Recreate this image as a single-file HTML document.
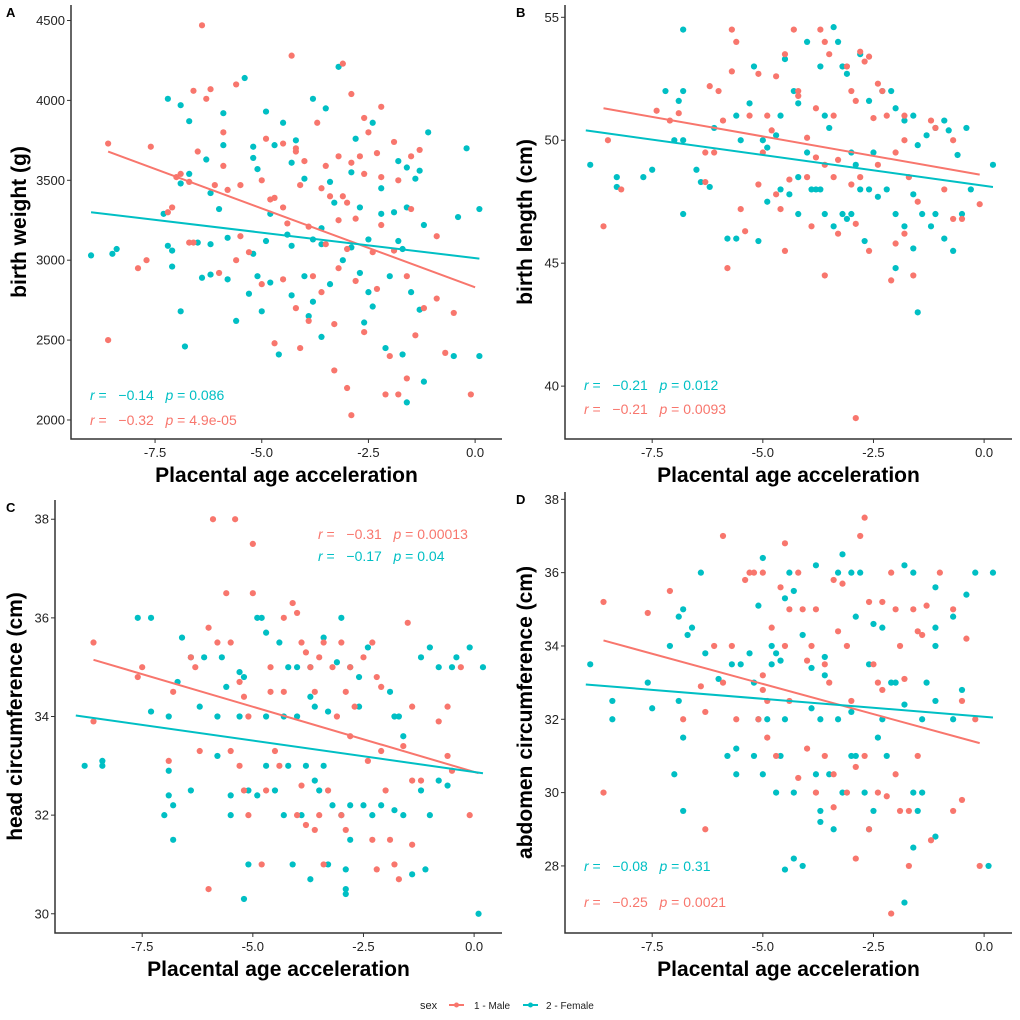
<!DOCTYPE html>
<html><head><meta charset="utf-8"><style>
body{margin:0;background:#fff;}
svg{display:block;font-family:"Liberation Sans",sans-serif;}
.ann{white-space:pre;}
</style></head><body>
<svg id="fig" width="1020" height="1020" viewBox="0 0 1020 1020"></svg>
<script>
// ---- Data (x = placental age acceleration, y = outcome) ----
const maleA = [[-8.6,3730],[-7.6,3710],[-8.6,2500],[-7.0,3520],[-6.6,4060],[-6.4,4470],[-6.3,4010],[-6.2,4070],[-5.6,4100],[-4.3,4280],[-3.1,4230],[-2.9,4040],[-2.6,3890],[-2.2,3960],[-2.5,3800],[-5.9,3800],[-4.9,3760],[-4.5,3730],[-4.2,3700],[-3.7,3860],[-4.2,3680],[-4.0,3620],[-3.2,3650],[-2.9,3610],[-2.7,3650],[-1.3,3690],[-1.9,3740],[-2.3,3670],[-6.9,3540],[-6.5,3680],[-6.7,3490],[-6.1,3470],[-5.9,3590],[-5.8,3440],[-5.5,3470],[-5.0,3500],[-4.8,3380],[-4.5,3330],[-4.7,3390],[-4.1,3470],[-3.6,3450],[-3.4,3400],[-3.1,3400],[-3.0,3360],[-2.2,3520],[-1.8,3500],[-1.5,3650],[-1.5,3320],[-3.5,3590],[-2.6,3540],[-7.2,3300],[-7.1,3330],[-6.7,3110],[-6.6,3110],[-5.5,3150],[-5.3,3050],[-4.4,3230],[-3.9,3210],[-3.2,3250],[-2.8,3260],[-2.2,3220],[-0.9,3150],[-1.9,3060],[-2.4,3050],[-3.5,3100],[-3.0,3070],[-5.6,3000],[-7.7,3000],[-7.9,2950],[-6.0,2920],[-5.0,2850],[-4.5,2880],[-3.8,2900],[-3.6,2800],[-3.2,2950],[-2.8,2870],[-2.3,2820],[-1.6,2900],[-0.9,2760],[-1.2,2700],[-0.5,2670],[-4.2,2700],[-3.9,2620],[-3.3,2600],[-2.6,2550],[-4.7,2480],[-4.1,2450],[-3.3,2310],[-3.0,2200],[-2.1,2160],[-1.8,2160],[-1.6,2260],[-0.1,2160],[-2.9,2030],[-1.4,2530],[-0.7,2420],[-2.0,2400]];
const femaleA = [[-9.0,3030],[-8.5,3040],[-8.4,3070],[-7.2,4010],[-6.9,3970],[-6.7,3870],[-5.9,3920],[-5.4,4140],[-4.9,3930],[-4.5,3860],[-3.8,4010],[-3.2,4210],[-3.5,3950],[-2.4,3860],[-1.1,3800],[-0.2,3700],[0.1,3320],[-7.3,3290],[-6.9,3480],[-6.7,3540],[-6.3,3630],[-5.9,3720],[-5.2,3710],[-5.2,3640],[-5.1,3570],[-4.7,3720],[-4.3,3610],[-4.2,3750],[-4.0,3510],[-3.4,3490],[-2.9,3550],[-2.8,3760],[-2.2,3450],[-1.8,3620],[-1.6,3580],[-1.3,3560],[-1.4,3510],[-6.0,3320],[-6.2,3420],[-4.8,3290],[-3.6,3200],[-3.3,3360],[-2.7,3330],[-2.2,3290],[-1.9,3300],[-1.6,3330],[-1.2,3220],[-0.4,3270],[-7.2,3090],[-7.1,3060],[-6.5,3110],[-6.2,3100],[-5.8,3140],[-5.2,3040],[-4.9,3120],[-4.4,3160],[-4.3,3090],[-3.8,3130],[-3.6,3100],[-2.9,3080],[-2.5,3130],[-1.8,3120],[-1.7,3070],[-7.1,2960],[-6.9,2680],[-6.8,2460],[-6.2,2910],[-5.8,2880],[-5.3,2790],[-5.1,2900],[-4.8,2860],[-4.3,2780],[-4.0,2900],[-3.8,2740],[-3.4,2850],[-3.1,3000],[-2.7,2920],[-2.5,2800],[-2.0,2900],[-1.5,2800],[-1.3,2690],[-5.6,2620],[-5.0,2680],[-4.6,2410],[-3.9,2650],[-3.6,2520],[-2.6,2610],[-2.1,2450],[-1.7,2410],[-1.2,2240],[-1.6,2110],[-2.4,2710],[-0.5,2400],[0.1,2400],[-6.4,2890]];
const fitMaleA = [[-8.6,3680],[0.0,2830]];
const fitFemaleA = [[-9.0,3300],[0.1,3010]];
const yTicksA = [2000,2500,3000,3500,4000,4500];

const maleB = [[-8.6,46.5],[-8.5,50],[-8.2,48],[-7.4,51.2],[-7.1,50.8],[-6.9,51.1],[-6.3,49.5],[-6.1,49.5],[-6.2,52.2],[-6.0,52],[-5.9,50.8],[-5.7,52.8],[-5.7,54.5],[-5.6,54],[-5.3,51],[-5.1,52.7],[-5.0,49.5],[-4.9,51],[-4.8,50.4],[-4.7,52.6],[-4.5,53.5],[-4.2,51.8],[-4.3,54.5],[-4.2,52],[-4.0,50.1],[-3.8,51.3],[-3.7,54.5],[-3.6,54],[-3.5,53.5],[-3.4,51],[-3.1,53],[-2.8,53.6],[-2.7,53.2],[-2.6,53.4],[-2.4,52.3],[-2.3,52],[-2.2,51],[-3.0,52],[-2.9,51.6],[-2.5,50.9],[-1.8,51],[-1.2,50.8],[-1.1,50.5],[-0.7,50],[-1.8,50],[-6.3,48.3],[-5.5,47.2],[-5.1,48.2],[-4.7,47.8],[-4.4,48.4],[-4.0,48.5],[-3.8,49.3],[-3.6,49],[-3.4,48.5],[-3.3,49.2],[-3.0,48.2],[-2.8,48.5],[-2.4,49],[-2.0,49.5],[-1.7,48.5],[-1.5,47.5],[-0.9,48],[-0.7,46.8],[-0.5,46.8],[-0.1,47.4],[-2.9,46.6],[-3.3,46.2],[-2.6,45.5],[-2.0,45.8],[-1.8,46.2],[-4.5,45.5],[-5.8,44.8],[-3.6,44.5],[-2.1,44.3],[-1.6,44.5],[-2.9,38.7],[-3.9,46.5],[-5.4,46.3],[-4.6,47.2]];
const femaleB = [[-8.9,49],[-8.3,48.5],[-8.3,48.1],[-7.7,48.5],[-7.5,48.8],[-7.2,52],[-6.8,52],[-6.9,51.6],[-6.8,54.5],[-7.0,50],[-6.8,50],[-6.5,48.8],[-6.4,48.3],[-6.8,47],[-6.2,48.1],[-6.1,50.5],[-5.6,51],[-5.5,50],[-5.3,51.5],[-5.2,53],[-5.0,50],[-4.9,49.7],[-4.7,50.2],[-4.5,53.3],[-4.6,51],[-4.3,52],[-4.2,51.5],[-4.0,54],[-4.0,49.5],[-3.7,53],[-3.6,51],[-3.5,50.5],[-3.4,54.6],[-3.3,54],[-3.2,53],[-3.1,52.7],[-3.0,49.5],[-2.9,49],[-2.8,53.5],[-2.6,51.6],[-2.5,49.5],[-2.3,52],[-2.1,52],[-2.0,51.3],[-1.8,50.8],[-1.6,51],[-1.5,49.8],[-1.3,50.2],[-1.1,50.5],[-0.9,50.8],[-0.8,50.4],[-0.6,49.4],[0.2,49],[-0.4,50.5],[-5.8,46],[-5.6,46],[-4.9,47.5],[-4.6,48],[-4.4,47.8],[-4.2,48.5],[-3.9,48],[-3.8,48],[-3.7,48],[-3.6,47],[-3.4,46.5],[-3.2,47],[-3.1,46.8],[-3.0,47],[-2.8,48],[-2.6,48],[-2.4,47.7],[-2.2,48],[-2.0,47],[-1.8,46.5],[-1.6,47.8],[-1.4,47],[-1.2,46.5],[-1.1,47],[-0.9,46],[-0.7,45.5],[-0.5,47],[-1.5,43],[-5.1,45.9],[-2.0,44.8],[-2.7,45.9],[-4.2,47],[-1.6,45.6],[-0.3,48]];
const fitMaleB = [[-8.6,51.3],[-0.1,48.6]];
const fitFemaleB = [[-9.0,50.4],[0.2,48.1]];
const yTicksB = [40,45,50,55];

const maleC = [[-8.6,35.5],[-8.6,33.9],[-7.6,34.8],[-7.5,35],[-6.8,34.5],[-6.4,35.2],[-6.3,35],[-6.0,35.8],[-6.0,30.5],[-5.9,38],[-5.4,38],[-5.8,35.5],[-5.6,36.5],[-5.5,35.5],[-5.3,34.7],[-5.2,34.4],[-5.1,34],[-5.0,37.5],[-5.0,36.5],[-4.6,35],[-4.5,33.3],[-4.3,36],[-4.1,36.3],[-4.0,36.1],[-3.9,35.5],[-3.8,35.3],[-3.7,35],[-3.5,35.2],[-3.4,35.5],[-3.2,35],[-3.0,35.5],[-2.8,35],[-2.5,35.2],[-2.3,35.5],[-2.2,34.8],[-2.1,34.6],[-1.5,35.9],[-1.4,34.2],[-0.8,33.9],[-0.6,34.2],[-0.3,35],[-3.6,34.5],[-3.1,34],[-2.9,34.5],[-2.7,34.2],[-4.3,34.5],[-4.6,34.5],[-5.5,33.3],[-6.2,33.3],[-6.9,33.1],[-5.2,32.5],[-4.7,32.5],[-3.9,32.6],[-3.3,32.5],[-2.4,33.1],[-2.1,33.3],[-1.6,33.4],[-1.2,32.7],[-0.6,33.2],[-0.5,32.9],[-5.1,32],[-4.0,32],[-3.5,32],[-3.0,32],[-2.9,31.7],[-3.8,31.8],[-3.6,31.7],[-2.3,31.5],[-1.9,31.5],[-1.4,31.4],[-0.1,32],[-4.8,31],[-3.4,31],[-2.2,30.9],[-1.8,31],[-1.7,30.7],[-5.3,33],[-4.4,33],[-2.8,33.6],[-1.4,32.7],[-2.0,32.5]];
const femaleC = [[-8.8,33],[-8.4,33.1],[-8.4,33],[-7.6,36],[-7.3,36],[-6.6,35.6],[-6.4,35.2],[-6.1,35.2],[-5.7,35.2],[-5.6,34.6],[-5.3,34.9],[-5.2,34.8],[-4.9,36],[-4.8,36],[-4.7,35.7],[-4.4,35.5],[-4.2,35],[-4.0,35],[-3.7,35],[-3.4,35.6],[-3.1,35.1],[-3.0,36],[-2.8,35],[-2.6,34.8],[-2.4,35.4],[-1.9,34.5],[-1.7,34],[-1.2,35.2],[-1.0,35.4],[-0.8,35],[-0.5,35],[-0.4,35.2],[-0.1,35.4],[0.2,35],[-7.3,34.1],[-6.9,34],[-6.7,34.7],[-6.2,34.2],[-5.8,34],[-5.3,34],[-4.7,34],[-4.3,34],[-4.0,34],[-3.7,34.4],[-3.6,34.2],[-3.3,34.1],[-2.6,34.2],[-1.8,34],[-1.6,33.6],[-6.9,32.9],[-6.9,32.4],[-6.8,32.2],[-6.4,32.5],[-5.8,33.2],[-5.5,32.4],[-5.1,32.5],[-4.9,32.4],[-4.7,33],[-4.5,32.5],[-4.2,33],[-3.8,33],[-3.6,32.7],[-3.4,33],[-3.2,32.2],[-3.0,32],[-2.8,32.2],[-2.5,32.2],[-2.3,32],[-2.1,32.2],[-1.8,32.1],[-1.6,32],[-1.2,32.5],[-1.0,32],[-0.8,32.7],[-0.6,32.6],[-7.0,32],[-6.8,31.5],[-5.5,32],[-5.1,31],[-4.1,31],[-3.7,30.7],[-3.3,31],[-2.9,30.9],[-2.9,30.5],[-2.8,31.5],[-1.4,30.8],[-1.1,30.9],[0.1,30],[-5.2,30.3],[-2.9,30.4],[-3.9,32],[-3.5,32.5],[-4.3,32]];
const fitMaleC = [[-8.6,35.15],[0.1,32.85]];
const fitFemaleC = [[-9.0,34.02],[0.2,32.85]];
const yTicksC = [30,32,34,36,38];

const maleD = [[-8.6,35.2],[-8.6,30],[-7.6,34.9],[-7.1,35.5],[-6.8,32],[-6.4,32.9],[-6.3,32.2],[-6.3,29],[-6.1,34],[-5.9,37],[-5.9,33],[-5.7,34],[-5.6,32],[-5.4,35.8],[-5.3,36],[-5.2,36],[-5.1,32],[-5.0,36],[-5.0,33.2],[-5.0,32.8],[-4.9,32.5],[-4.8,34.5],[-4.6,35.6],[-4.5,36.8],[-4.4,35],[-4.5,34],[-4.4,32.5],[-4.2,36],[-4.1,35],[-4.0,33.6],[-3.9,34],[-3.8,35],[-3.6,33.5],[-3.5,33],[-3.4,35.8],[-3.3,34.4],[-3.2,35.7],[-3.1,34],[-2.8,37],[-2.7,37.5],[-2.6,35.2],[-2.5,33.5],[-2.4,33],[-2.3,35.2],[-2.1,36],[-2.0,35],[-1.9,34],[-1.8,33.1],[-1.6,35],[-1.5,34.4],[-1.4,34.3],[-1.3,35.1],[-1.0,36],[-0.7,35],[-0.5,32.5],[-0.2,32],[-0.4,34.2],[-4.7,31],[-4.2,30.4],[-3.8,30],[-3.4,30.5],[-3.1,30],[-2.9,30.7],[-2.7,31],[-2.4,30],[-2.2,29.9],[-2.0,30.5],[-1.9,29.5],[-1.7,29.5],[-1.5,31],[-1.2,28.7],[-0.7,29.5],[-0.5,29.8],[-0.1,28],[-2.9,28.2],[-2.1,26.7],[-1.7,28],[-3.4,29.6],[-2.6,29],[-3.6,31],[-2.3,32.8],[-3.0,32.5],[-4.9,31.5],[-4.0,31.2]];
const femaleD = [[-8.9,33.5],[-8.4,32.5],[-8.4,32],[-7.6,33],[-7.5,32.3],[-7.1,34],[-6.9,34.8],[-6.9,32.5],[-6.8,35],[-6.7,34.3],[-6.6,34.5],[-6.4,36],[-6.3,33.8],[-6.0,33.1],[-5.7,33.5],[-5.5,33.5],[-5.3,33.8],[-5.2,33],[-5.1,35.1],[-5.0,36.4],[-4.8,34],[-4.8,33.5],[-4.7,33.8],[-4.6,33.6],[-4.5,35.3],[-4.4,36],[-4.3,35.5],[-4.1,34.3],[-3.9,33.4],[-3.8,36.2],[-3.6,33.7],[-3.6,33.2],[-3.3,36],[-3.2,36.5],[-3.0,36],[-2.9,34.8],[-2.8,36],[-2.6,33.5],[-2.5,34.6],[-2.3,34.5],[-2.1,33],[-2.0,33],[-1.8,36.2],[-1.6,36],[-1.3,33],[-1.1,35.6],[-1.1,34.5],[-1.1,34],[-0.7,34.8],[-0.4,35.4],[-0.2,36],[0.2,36],[-0.5,32.8],[-5.1,32],[-4.9,32],[-4.5,32],[-3.9,32.3],[-3.7,32],[-3.3,32],[-3.0,32.2],[-2.3,32],[-1.8,32.4],[-1.4,32],[-1.1,32.5],[-0.7,32],[-7.0,30.5],[-6.8,31.5],[-6.8,29.5],[-5.8,31],[-5.6,30.5],[-5.2,31],[-5.0,30.5],[-4.7,30],[-4.6,31],[-4.3,30],[-3.8,30.5],[-3.7,29.5],[-3.7,29.2],[-3.5,30.5],[-3.4,29],[-3.2,30],[-2.9,31],[-2.7,30],[-2.5,29.5],[-2.6,29],[-2.2,31],[-1.6,30],[-1.4,30],[-1.5,29.5],[-1.1,28.8],[-1.6,28.5],[-4.5,27.9],[-4.3,28.2],[-4.1,28],[-1.8,27],[0.1,28],[-3.0,31],[-2.4,31.5],[-5.6,31.2]];
const fitMaleD = [[-8.6,34.15],[-0.1,31.35]];
const fitFemaleD = [[-9.0,32.95],[0.2,32.05]];
const yTicksD = [28,30,32,34,36,38];

const xTicks = [-7.5,-5.0,-2.5,0.0];
const xTickLabels = ["-7.5","-5.0","-2.5","0.0"];

const RED = "#F8766D", CYAN = "#00BFC4";
const NS = "http://www.w3.org/2000/svg";
const svg = document.getElementById('fig');
function mk(tag, attrs, parent, text){
  const e = document.createElementNS(NS, tag);
  for (const k in attrs) e.setAttribute(k, attrs[k]);
  if (text !== undefined) e.textContent = text;
  (parent || svg).appendChild(e);
  return e;
}

function panel(p){
  const g = mk('g', {});
  
  
  const xs = v => p.L + (v - p.xmin) / (p.xmax - p.xmin) * (p.R - p.L);
  const ys = v => p.B - (v - p.ymin) / (p.ymax - p.ymin) * (p.B - p.T);
  const letter = mk('text', {x: p.letterX, y: p.T + 12, 'font-size': 13, 'font-weight': 'bold', fill: '#000'}, g, p.letter);
  
  
  const pts = mk('g', {}, g);
  
  
  p.female.forEach(d => {
    const c = mk('circle', {cx: xs(d[0]), cy: ys(d[1]), r: 3.1, fill: CYAN}, pts);
    
    
  });
  p.male.forEach(d => {
    const c = mk('circle', {cx: xs(d[0]), cy: ys(d[1]), r: 3.1, fill: RED}, pts);
    
    
  });
  const lm = mk('line', {x1: xs(p.fitM[0][0]), y1: ys(p.fitM[0][1]), x2: xs(p.fitM[1][0]), y2: ys(p.fitM[1][1]), stroke: RED, 'stroke-width': 2}, g);
  
  
  const lf = mk('line', {x1: xs(p.fitF[0][0]), y1: ys(p.fitF[0][1]), x2: xs(p.fitF[1][0]), y2: ys(p.fitF[1][1]), stroke: CYAN, 'stroke-width': 2}, g);
  
  
  const ax = mk('path', {d: `M${p.L},${p.T} V${p.B} H${p.R}`, fill: 'none', stroke: '#333', 'stroke-width': 1.5}, g);
  
  
  p.yticks.forEach(v => {
    mk('line', {x1: p.L - 4, x2: p.L, y1: ys(v), y2: ys(v), stroke: '#333', 'stroke-width': 1}, g);
    const t = mk('text', {x: p.L - 6, y: ys(v) + 4.5, 'font-size': 13, 'text-anchor': 'end', fill: '#222'}, g, String(v));
    
    
  });
  xTicks.forEach((v, i) => {
    mk('line', {x1: xs(v), x2: xs(v), y1: p.B, y2: p.B + 4, stroke: '#333', 'stroke-width': 1}, g);
    const t = mk('text', {x: xs(v), y: p.B + 18, 'font-size': 13, 'text-anchor': 'middle', fill: '#222'}, g, xTickLabels[i]);
    
    
  });
  const xt = mk('text', {x: (p.L + p.R) / 2, y: p.B + 43, 'font-size': 21, 'font-weight': 'bold', 'text-anchor': 'middle', fill: '#000'}, g, 'Placental age acceleration');
  
  
  const cy = (p.T + p.B) / 2;
  const yt = mk('text', {x: p.ytX, y: cy, 'font-size': 21, 'font-weight': 'bold', 'text-anchor': 'middle', fill: '#000', transform: `rotate(-90 ${p.ytX} ${cy})`}, g, p.ytitle);
  
  
  p.ann.forEach(a => {
    const t = mk('text', {x: a.x, y: a.y, 'font-size': 14, fill: a.c, class: 'ann'}, g);
    
    
    mk('tspan', {'font-style': 'italic'}, t, 'r');
    mk('tspan', {}, t, ' =   ' + a.r + '   ');
    mk('tspan', {'font-style': 'italic'}, t, 'p');
    mk('tspan', {}, t, ' = ' + a.p);
  });
}

const XMIN = -9.47, XMAX = 0.63;
panel({letter:'A', letterX:6, L:71, R:502, T:5, B:439, xmin:XMIN, xmax:XMAX, ymin:1881, ymax:4597, yticks:yTicksA, ytitle:'birth weight (g)', ytX:26, male:maleA, female:femaleA, fitM:fitMaleA, fitF:fitFemaleA,
  ann:[{x:90,y:400,c:CYAN,r:'\u22120.14',p:'0.086'},{x:90,y:425,c:RED,r:'\u22120.32',p:'4.9e-05'}]});
panel({letter:'B', letterX:516, L:565, R:1012, T:5, B:439, xmin:XMIN, xmax:XMAX, ymin:37.85, ymax:55.5, yticks:yTicksB, ytitle:'birth length (cm)', ytX:532, male:maleB, female:femaleB, fitM:fitMaleB, fitF:fitFemaleB,
  ann:[{x:584,y:390,c:CYAN,r:'\u22120.21',p:'0.012'},{x:584,y:414,c:RED,r:'\u22120.21',p:'0.0093'}]});
panel({letter:'C', letterX:6, L:55, R:502, T:500, B:933, xmin:XMIN, xmax:XMAX, ymin:29.61, ymax:38.39, yticks:yTicksC, ytitle:'head circumference (cm)', ytX:22, male:maleC, female:femaleC, fitM:fitMaleC, fitF:fitFemaleC,
  ann:[{x:318,y:539,c:RED,r:'\u22120.31',p:'0.00013'},{x:318,y:561,c:CYAN,r:'\u22120.17',p:'0.04'}]});
panel({letter:'D', letterX:516, L:565, R:1012, T:492, B:933, xmin:XMIN, xmax:XMAX, ymin:26.17, ymax:38.2, yticks:yTicksD, ytitle:'abdomen circumference (cm)', ytX:532, male:maleD, female:femaleD, fitM:fitMaleD, fitF:fitFemaleD,
  ann:[{x:584,y:871,c:CYAN,r:'\u22120.08',p:'0.31'},{x:584,y:907,c:RED,r:'\u22120.25',p:'0.0021'}]});

const lg = mk('g', {});


mk('text', {x: 420, y: 1009, 'font-size': 11, fill: '#222'}, lg, 'sex');
const k1 = mk('g', {}, lg);


mk('line', {x1: 449, x2: 464, y1: 1005, y2: 1005, stroke: RED, 'stroke-width': 2}, k1);
mk('circle', {cx: 456.5, cy: 1005, r: 2.5, fill: RED}, k1);
mk('text', {x: 474, y: 1009, 'font-size': 10, fill: '#222'}, k1, '1 - Male');
const k2 = mk('g', {}, lg);


mk('line', {x1: 523, x2: 538, y1: 1005, y2: 1005, stroke: CYAN, 'stroke-width': 2}, k2);
mk('circle', {cx: 530.5, cy: 1005, r: 2.5, fill: CYAN}, k2);
mk('text', {x: 546, y: 1009, 'font-size': 10, fill: '#222'}, k2, '2 - Female');
</script>
</body></html>
